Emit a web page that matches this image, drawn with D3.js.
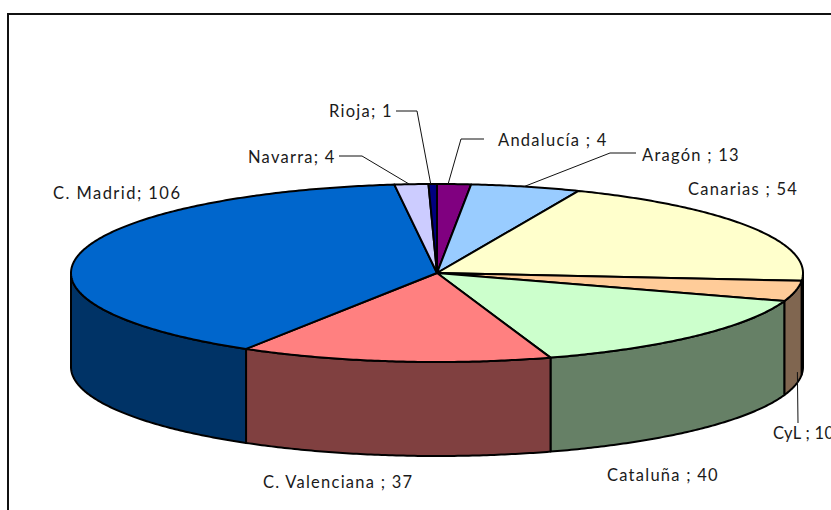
<!DOCTYPE html>
<html>
<head>
<meta charset="utf-8">
<script src="https://cdn.jsdelivr.net/npm/d3@7"></script>
<style>
  html, body { margin: 0; padding: 0; background: #fff; overflow: hidden; }
  text { font-family: Lato, "Open Sans", sans-serif; font-size: 16.5px; fill: #1a1a1a; letter-spacing: 1.25px; }
</style>
</head>
<body>
<svg id="chart" width="831" height="510"></svg>
<script>
// Clockwise from twelve o'clock
var regions = ["Andalucía", "Aragón", "Canarias", "CyL", "Cataluña", "C. Valenciana", "C. Madrid", "Navarra", "Rioja"];
var counts = [4, 13, 54, 10, 40, 37, 106, 4, 1];
var labels = ["Andalucía ; 4", "Aragón ; 13", "Canarias ; 54", "CyL ; 10", "Cataluña ; 40", "C. Valenciana ; 37", "C. Madrid; 106", "Navarra; 4", "Rioja; 1"];
var topColors = ["#800080", "#99ccff", "#ffffcc", "#ffcc99", "#ccffcc", "#ff8080", "#0066cc", "#ccccff", "#000080"];
var sideColors = ["#400040", "#4d6680", "#808066", "#806650", "#668066", "#804040", "#003366", "#666680", "#000040"];

var cx = 437, cy = 273, rx = 366, ry = 89, depth = 94;

// where each label text starts, and the elbow of its leader line (null = no leader)
var labelPos = [[498, 146], [642, 161], [688, 195], [773, 439], [607, 481], [263, 488], [53, 199], [248, 163], [329, 117]];
var labelSpacing = [1.25, 1.25, 1.25, 0.3, 1.25, 1.25, 1.45, 1.25, 1.25];
var elbows = [[[484, 139], [461, 139]], [[636, 153], [610, 153]], null, [[798, 423]], null, null, null, [[339, 156], [362, 156]], [[396, 111], [417, 111]]];
var leaderDrop = [0, 0, 0, 81, 0, 0, 0, 0, 0];
var leaderShift = [-6, -2, 0, 2, 0, 0, 0, -2, -2];

var svg = d3.select("#chart");

// the frame is cut off by the right and bottom of the picture
svg.append("path")
    .attr("d", "M8,510V14H831")
    .attr("fill", "none")
    .attr("stroke", "#111")
    .attr("stroke-width", 2);

var pie = d3.pie().sort(null)(counts);

var px = a => cx + rx * Math.sin(a);
var py = a => cy - ry * Math.cos(a);
var rim = d3.line().x(d => px(d)).y(d => py(d));

function sweep(a0, a1) {
  var n = Math.max(2, Math.ceil((a1 - a0) / 0.01));
  return d3.range(n + 1).map(i => a0 + (a1 - a0) * i / n);
}

// walls, only the part that faces the viewer
var lo = Math.PI / 2, hi = Math.PI * 1.5;
var walls = pie.filter(d => d.endAngle > lo && d.startAngle < hi);

svg.append("g").selectAll("path")
  .data(walls)
  .enter().append("path")
    .attr("fill", d => sideColors[d.index])
    .attr("stroke", "#000")
    .attr("stroke-width", 2)
    .attr("stroke-linejoin", "round")
    .attr("d", function(d) {
      var pts = sweep(Math.max(d.startAngle, lo), Math.min(d.endAngle, hi));
      var upper = pts.map(a => [px(a), py(a)]);
      var lower = pts.slice().reverse().map(a => [px(a), py(a) + depth]);
      return d3.line()(upper.concat(lower)) + "Z";
    });

// top face
svg.append("g").selectAll("path")
  .data(pie)
  .enter().append("path")
    .attr("fill", d => topColors[d.index])
    .attr("stroke", "#000")
    .attr("stroke-width", 2)
    .attr("stroke-linejoin", "round")
    .attr("d", d => "M" + cx + "," + cy + "L" + rim(sweep(d.startAngle, d.endAngle)).slice(1) + "Z");

// leader lines
svg.append("g").selectAll("path")
  .data(pie.filter(d => elbows[d.index]))
  .enter().append("path")
    .attr("fill", "none")
    .attr("stroke", "#111")
    .attr("stroke-width", 1)
    .attr("d", function(d) {
      var mid = (d.startAngle + d.endAngle) / 2;
      return d3.line()(elbows[d.index].concat([[px(mid) + leaderShift[d.index], py(mid) + leaderDrop[d.index]]]));
    });

svg.append("g").selectAll("text")
  .data(labels)
  .enter().append("text")
    .attr("x", (d, i) => labelPos[i][0])
    .attr("y", (d, i) => labelPos[i][1])
    .style("letter-spacing", (d, i) => labelSpacing[i] + "px")
    .text(d => d);
</script>
</body>
</html>
